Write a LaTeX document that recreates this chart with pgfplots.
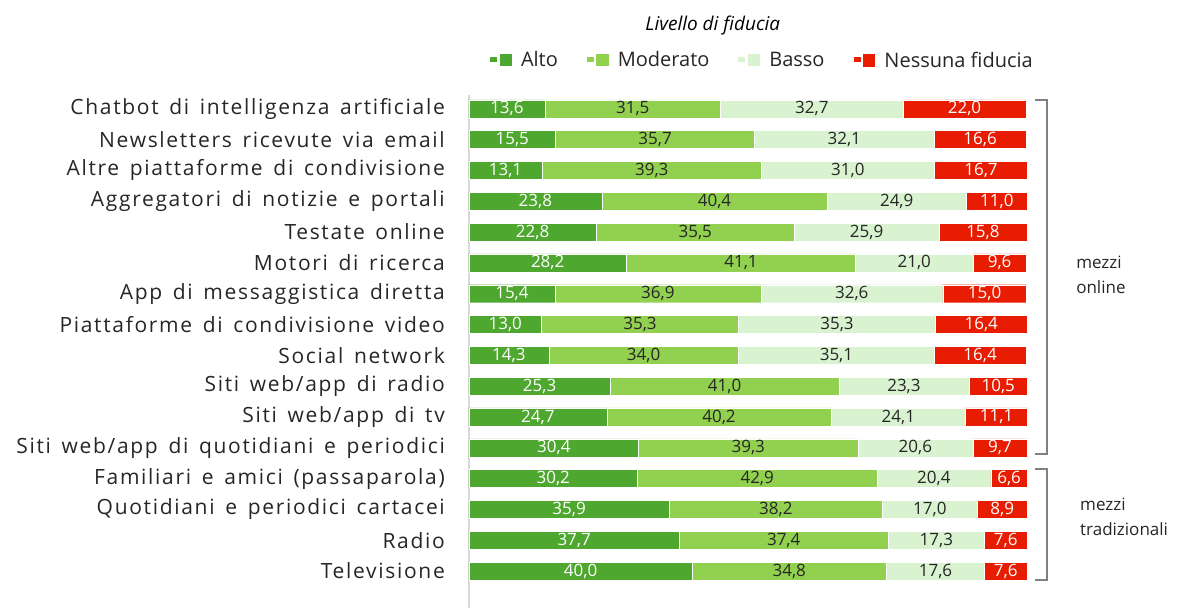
\documentclass[border=0pt]{standalone}
\usepackage{fontspec}
\setmainfont{Open Sans}
\newfontfamily\catfont[LetterSpace=8,WordSpace=1.5]{Open Sans}
\usepackage{pgfplots}
\usepackage{pgfplotstable}
\pgfplotsset{compat=1.18}

\definecolor{alto}{HTML}{4EA72E}
\definecolor{moderato}{HTML}{92D050}
\definecolor{basso}{HTML}{D9F2D0}
\definecolor{nessuna}{HTML}{E81C00}
\definecolor{txt}{HTML}{262626}
\definecolor{brk}{HTML}{808080}
\definecolor{axgray}{HTML}{D9D9D9}

% niente immagine di xbar nella legenda: il quadratino sta nel testo
\pgfplotsset{/pgfplots/xbar legend/.style={/pgfplots/legend image code/.code={}}}
\newcommand{\sq}[2]{\textcolor{#1}{\rule[0.5pt]{12.5pt}{12.5pt}}\hspace{9pt}#2}

% y = posizione della riga (0 = in basso)
\pgfplotstableread{
y  Alto Moderato Basso Nessuna
15 13.6 31.5 32.7 22.0
14 15.5 35.7 32.1 16.6
13 13.1 39.3 31.0 16.7
12 23.8 40.4 24.9 11.0
11 22.8 35.5 25.9 15.8
10 28.2 41.1 21.0 9.6
9  15.4 36.9 32.6 15.0
8  13.0 35.3 35.3 16.4
7  14.3 34.0 35.1 16.4
6  25.3 41.0 23.3 10.5
5  24.7 40.2 24.1 11.1
4  30.4 39.3 20.6 9.7
3  30.2 42.9 20.4 6.6
2  35.9 38.2 17.0 8.9
1  37.7 37.4 17.3 7.6
0  40.0 34.8 17.6 7.6
}\datatable

% un segmento della barra (le etichette sono già al centro del segmento)
\newcommand{\seg}[3]{%
  \addplot[fill=#2, draw=white, line width=0.4pt,
    point meta=explicit,
    nodes near coords={\pgfmathprintnumber[fixed,fixed zerofill,precision=1,use comma]{\pgfplotspointmeta}},
    every node near coord/.append style={text=#3, anchor=center, inner sep=0pt,
      font=\fontsize{17}{20}\selectfont}]
    table[x=#1, y=y, meta=#1] {\datatable};
}

\begin{document}
\begin{tikzpicture}
\begin{axis}[
    xbar stacked,
    scale only axis,
    width=558pt, height=513pt,
    xmin=0, xmax=100,
    ymin=-1.2, ymax=15.45,
    enlargelimits=false,
    bar width=18pt,
    clip=false,
    axis line style={draw=none},
    major tick length=0pt,
    xtick=\empty,
    ytick={0,...,15},
    yticklabels={Televisione, Radio, Quotidiani e periodici cartacei,
      Familiari e amici (passaparola), Siti web/app di quotidiani e periodici,
      Siti web/app di tv, Siti web/app di radio, Social network,
      Piattaforme di condivisione video, App di messaggistica diretta,
      Motori di ricerca, Testate online, Aggregatori di notizie e portali,
      Altre piattaforme di condivisione, Newsletters ricevute via email,
      Chatbot di intelligenza artificiale},
    yticklabel style={font=\catfont\fontsize{21}{24}\selectfont, text=txt,
      anchor=east, inner sep=0pt},
    yticklabel shift=24pt,
    /pgf/number format/assume math mode=true,
    legend columns=4,
    legend style={at={(axis description cs:0.525,1.068)}, anchor=center,
      draw=none, fill=none, font=\fontsize{20}{23}\selectfont, text=txt,
      cells={anchor=west},
      /tikz/every even column/.append style={column sep=26pt}},
]
\seg{Alto}{alto}{white}
\seg{Moderato}{moderato}{txt}
\seg{Basso}{basso}{txt}
\seg{Nessuna}{nessuna}{white}
\legend{\sq{alto}{Alto}, \sq{moderato}{Moderato}, \sq{basso}{Basso},
  \sq{nessuna}{Nessuna fiducia}}

% asse verticale
\draw[axgray, line width=1.5pt] (axis cs:0,-1.2) -- (axis cs:0,15.45);

% parentesi dei gruppi
\draw[brk, line width=2pt] (axis cs:101.4,15.3) -- (axis cs:103.6,15.3)
  -- (axis cs:103.6,3.8) -- (axis cs:101.4,3.8);
\draw[brk, line width=2pt] (axis cs:101.4,3.3) -- (axis cs:103.6,3.3)
  -- (axis cs:103.6,-0.3) -- (axis cs:101.4,-0.3);
\node[anchor=west, align=left, text=txt, font=\fontsize{17}{25}\selectfont]
  at (axis cs:108.2,9.6) {mezzi\\online};
\node[anchor=west, align=left, text=txt, font=\fontsize{17}{25}\selectfont]
  at (axis cs:108.9,1.75) {mezzi\\tradizionali};

% titolo della legenda
\node[font=\itshape\fontsize{19}{22}\selectfont, text=black]
  at (axis description cs:0.437,1.136) {Livello di fiducia};
\end{axis}
\pgfresetboundingbox
\path[use as bounding box] (current axis.south west) ++(-469pt,0) rectangle ++(1177pt,608pt);
\end{tikzpicture}
\end{document}
